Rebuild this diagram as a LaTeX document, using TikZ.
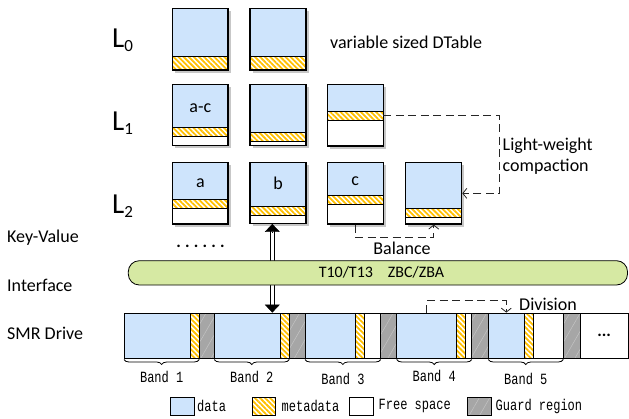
\documentclass[tikz,border=0pt]{standalone}
\usepackage{fontspec}
\setmainfont{Carlito}
\newfontfamily\monof{Liberation Mono}
\usetikzlibrary{patterns.meta,arrows.meta,decorations.pathreplacing,calc,fit}

\definecolor{datablue}{RGB}{206,228,252}
\definecolor{metagold}{RGB}{255,192,0}
\definecolor{ifgreen}{RGB}{214,233,163}
\definecolor{guardgray}{RGB}{166,166,166}
\definecolor{guardline}{RGB}{196,196,196}

\newcommand\mono[1]{\scalebox{1}[1.3]{\monof\fontsize{12}{14}\selectfont #1}}

\tikzset{
  metafill/.style={preaction={fill=white}, pattern={Lines[angle=-45,distance=3.6pt,line width=1.8pt]}, pattern color=metagold},
  guardfill/.style={preaction={fill=guardgray}, pattern={Lines[angle=60,distance=9pt,line width=0.5pt]}, pattern color=guardline},
  tbl/.style={draw, line width=1.2pt, inner sep=0pt},
  lbl/.style={font=\fontsize{18}{21.5}\selectfont, inner sep=0pt},
  biglbl/.style={font=\fontsize{29}{29}\selectfont, inner sep=0pt, anchor=base west},
  dashline/.style={dash pattern=on 8pt off 4.5pt, line width=0.8pt, black!85},
  barb/.style={-{Straight Barb[length=4pt,width=10pt]}},
  bandlbl/.style={inner sep=0pt},
  seg/.style={draw, line width=0.8pt, inner sep=0pt},
  brc/.style={decorate, decoration={brace, mirror, amplitude=5pt}, line width=0.8pt},
  tip/.style={-{Triangle[length=8pt,width=15pt]}},
}

% name, x1, y1, x2, y2, y data end, y meta end, label y, label
\newcommand\dtbl[9]{%
  \fill[black!22] (#2+2.5,#3+2.5) rectangle (#4+2.5,#5+2.5);
  \fill[datablue] (#2,#3) rectangle (#4,#6);
  \path[metafill] (#2,#6) rectangle (#4,#7);
  \fill[white] (#2,#7) rectangle (#4,#5);
  \draw[line width=1pt] (#2,#6) -- (#4,#6) (#2,#7) -- (#4,#7);
  \node[tbl, fit={(#2,#3) (#4,#5)}] (#1) {};
  \node[lbl] at ({(#2+#4)/2},#8) {#9};
}

\begin{document}
\begin{tikzpicture}[x=1pt,y=-1pt]
\useasboundingbox (0,0) rectangle (629,418);

% level labels
\node[biglbl] (lz) at (112,47) {L\raisebox{-4pt}{\fontsize{17}{17}\selectfont 0}};
\node[biglbl] (lo) at (112,130) {L\raisebox{-4pt}{\fontsize{17}{17}\selectfont 1}};
\node[biglbl] (lt) at (112,213) {L\raisebox{-4pt}{\fontsize{17}{17}\selectfont 2}};
\node[lbl, anchor=west] (vs) at (330,42) {variable sized DTable};

% DTables
\dtbl{La}{172.7}{8.3}{228}{70}{56.7}{70}{0}{}
\dtbl{Lb}{250}{8.3}{306}{70}{56.7}{70}{0}{}
\dtbl{Ma}{172.7}{84.3}{228}{145.7}{127.7}{136}{108}{a-c}
\dtbl{Mb}{250}{84.3}{306}{145.7}{132.3}{141}{0}{}
\dtbl{Mc}{327.3}{84.3}{383.3}{146}{111}{120}{0}{}
\dtbl{Na}{172.7}{162.7}{228}{224}{199.3}{208.3}{183}{a}
\dtbl{Nb}{250}{162.7}{306}{223.3}{206.7}{215}{183}{b}
\dtbl{Nc}{327.3}{162.7}{383.3}{224}{195}{204}{180.7}{c}
\dtbl{Nd}{405.7}{162.7}{461.7}{224}{208.3}{217.3}{0}{}

% side labels
\node[lbl, anchor=west] (kv) at (7,238) {Key-Value};
\node[lbl, anchor=west] (ifl) at (7,285) {Interface};
\node[lbl, anchor=west] (smr) at (7,333.5) {SMR Drive};
\node[font=\fontsize{17}{17}\selectfont\bfseries, inner sep=0pt] (dots) at (200.5,246) {.\hspace{4.2pt}.\hspace{4.2pt}.\hspace{4.2pt}.\hspace{4.2pt}.\hspace{4.2pt}.};

% SMR drive segments
\node[seg, fill=datablue, fit={(124,313) (190.7,358)}] (b1d) {};
\node[seg, metafill, fit={(190.7,313) (199.3,358)}] (b1m) {};
\node[seg, guardfill, fit={(199.3,313) (214.3,358)}] (g1) {};
\node[seg, fill=datablue, fit={(214.3,313) (280.7,358)}] (b2d) {};
\node[seg, metafill, fit={(280.7,313) (289.3,358)}] (b2m) {};
\node[seg, guardfill, fit={(289.3,313) (305,358)}] (g2) {};
\node[seg, fill=datablue, fit={(305,313) (355,358)}] (b3d) {};
\node[seg, metafill, fit={(355,313) (364,358)}] (b3m) {};
\node[seg, fill=white, fit={(364,313) (380.7,358)}] (b3f) {};
\node[seg, guardfill, fit={(380.7,313) (396.7,358)}] (g3) {};
\node[seg, fill=datablue, fit={(396.7,313) (456.7,358)}] (b4d) {};
\node[seg, metafill, fit={(456.7,313) (465.3,358)}] (b4m) {};
\node[seg, fill=white, fit={(465.3,313) (471.7,358)}] (b4f) {};
\node[seg, guardfill, fit={(471.7,313) (488.3,358)}] (g4) {};
\node[seg, fill=datablue, fit={(488.3,313) (524.3,358)}] (b5d) {};
\node[seg, metafill, fit={(524.3,313) (533.3,358)}] (b5m) {};
\node[seg, fill=white, fit={(533.3,313) (563.3,358)}] (b5f) {};
\node[seg, guardfill, fit={(563.3,313) (580,358)}] (g5) {};
\node[seg, fill=white, fit={(580,313) (628.4,358)}] (more) {};
\node[font=\fontsize{17}{17}\selectfont\bfseries, inner sep=0pt] at (more.center) {...};

% band braces
\draw[brc] (124,359.5) -- (199.3,359.5);
\draw[brc] (214.3,359.5) -- (289.3,359.5);
\draw[brc] (305,359.5) -- (380.7,359.5);
\draw[brc] (396.7,359.5) -- (471.7,359.5);
\draw[brc] (488.3,359.5) -- (563.3,359.5);
\node[bandlbl] (bl1) at (161.7,377) {\mono{Band 1}};
\node[bandlbl] (bl2) at (251.8,377) {\mono{Band 2}};
\node[bandlbl] (bl3) at (342.9,379) {\mono{Band 3}};
\node[bandlbl] (bl4) at (434.2,376) {\mono{Band 4}};
\node[bandlbl] (bl5) at (525.8,378.5) {\mono{Band 5}};

% double arrow (drawn below the interface bar)
\coordinate (ax) at (272.3,0);
\coordinate (atop) at (Nb.south -| ax);
\coordinate (abot) at (b2d.north -| ax);
\draw[line width=1.1pt, double distance=2.8pt, shorten <=7pt, shorten >=7pt] (atop) -- (abot);
\draw[tip] ($(atop)+(0,8)$) -- (atop);
\draw[tip] ($(abot)+(0,-8)$) -- (abot);

% interface bar
\node[draw, line width=0.8pt, fill=ifgreen, rounded corners=11pt, inner sep=0pt, fit={(128.3,260.7) (627.5,285)}] (iface) {};
\node[lbl, font=\fontsize{16}{18}\selectfont] (ift) at (381.5,272.5) {T10/T13\hspace{15pt}ZBC/ZBA};

% dashed connectors
\coordinate (mcm) at (383.3,115.5);
\draw[dashline, barb] (mcm) -| ($(Nd.east)+(37.3,0)$) -- (Nd.east);
\node[lbl, align=left, anchor=west] (lw) at (502.5,156) {Light-weight\\compaction};
\draw[dashline, barb] (Nc.south) -- ++(0,12.7) -| (Nd.south);
\node[lbl] (bal) at (402,248) {Balance};
\draw[dashline, barb] (b4d.north) -- ++(0,-12) -| (b5d.north);
\node[lbl, anchor=west] (div) at (519,304.5) {Division};

% legend
\node[seg, fill=datablue, fit={(170.7,397.3) (194.3,415)}] (lg1) {};
\node[bandlbl, anchor=west] at (197,406) {\mono{data}};
\node[seg, metafill, fit={(252.3,397.3) (275.3,415)}] (lg2) {};
\node[bandlbl, anchor=west] at (281.5,406) {\mono{metadata}};
\node[seg, fill=white, fit={(349.3,397.3) (373.3,415)}] (lg3) {};
\node[bandlbl, anchor=west] at (378.5,406) {\mono{Free space}};
\node[seg, guardfill, fit={(467.7,397.3) (491,415)}] (lg4) {};
\node[bandlbl, anchor=west] at (495.5,406) {\mono{Guard region}};
\end{tikzpicture}
\end{document}
